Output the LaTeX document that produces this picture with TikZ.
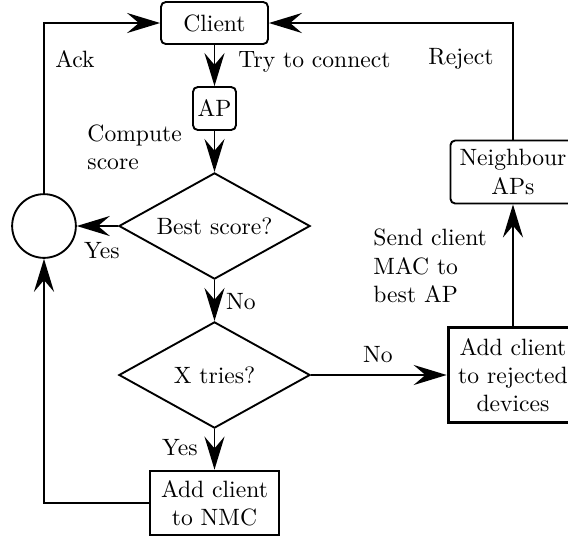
\documentclass[tikz,border=0pt]{standalone}
\usetikzlibrary{shapes.geometric}
\usetikzlibrary{arrows.meta}
\tikzset{>={Stealth[length=14pt, width=8.5pt, inset=5pt]}}
\tikzset{
  roundbox/.style={draw, thick, rounded corners=2pt, align=center, inner sep=1pt},
  sharpbox/.style={draw, very thick, align=center, inner sep=1pt},
  decision/.style={draw, thick, diamond, aspect=1.8, inner sep=0pt, minimum width=81pt, minimum height=45pt},
  junction/.style={draw, thick, circle, minimum size=27pt, inner sep=0pt},
  flow/.style={thick, ->},
  note/.style={align=left, inner sep=0pt},
}

\begin{document}
\begin{tikzpicture}[x=0.4237pt, y=-0.4237pt]
        \useasboundingbox (0,0) rectangle (568,540);
        % nodes
        \node[roundbox, minimum width=45.3pt, minimum height=17.8pt] (client) at (214.5,23) {Client};
        \node[roundbox, minimum size=18.2pt] (ap) at (214.5,108.5) {AP};
        \node[decision] (best) at (214.5,226) {Best score?};
        \node[junction] (join) at (44,226) {};
        \node[decision] (tries) at (214.5,375) {X tries?};
        \node[sharpbox, minimum width=54.7pt, minimum height=27.1pt] (nmc) at (214.5,503) {Add client\\to NMC};
        \node[sharpbox, minimum width=55pt, minimum height=40pt] (rejected) at (513,375) {Add client\\to rejected\\devices};
        \node[roundbox, minimum width=53pt, minimum height=26.7pt] (neigh) at (513,172) {Neighbour\\APs};
        % labels
        \node[note] (ltry) at (314.5,62) {Try to connect};
        \node[note] (lack) at (75,59) {Ack};
        \node[note] (lreject) at (461,59) {Reject};
        \node[note, anchor=west] (lscore) at (87,147) {Compute\\score};
        \node[note] (lyes) at (102,251) {Yes};
        \node[note] (lno) at (241,302) {No};
        \node[note] (lno2) at (378,355) {No};
        \node[note] (lyes2) at (180,448) {Yes};
        \node[note, anchor=west] (lsend) at (373,266) {Send client\\MAC to\\best AP};
        % lines
        \draw[flow] (client) -- (ap);
        \draw[flow] (ap) -- (best);
        \draw[flow] (best) -- (join);
        \draw[flow] (best) -- (tries);
        \draw[flow] (tries) -- (rejected);
        \draw[flow] (tries) -- (nmc);
        \draw[flow] (rejected) -- (neigh);
        \draw[flow] (neigh.north) |- (client.east);
        \draw[flow] (join.north) |- (client.west);
        \draw[flow] (nmc.west) -| (join.south);
\end{tikzpicture}
\end{document}
